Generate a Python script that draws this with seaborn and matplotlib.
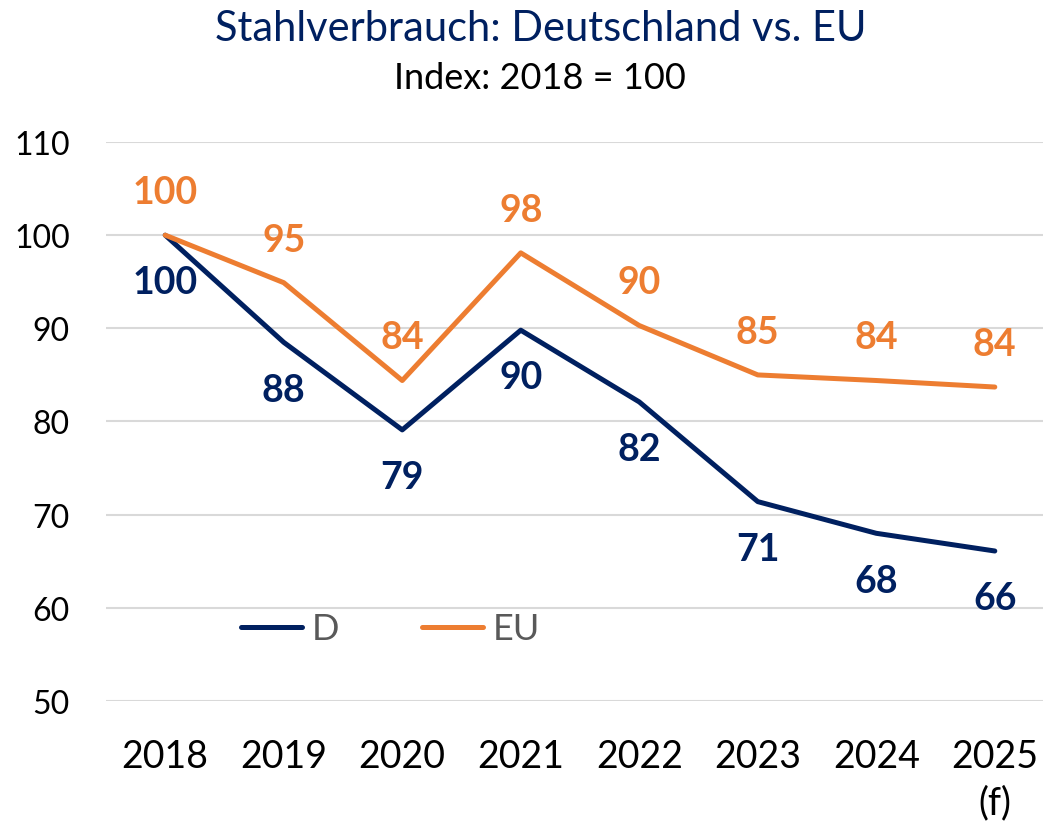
import pandas as pd
import matplotlib.pyplot as plt
import seaborn as sns

sns.set_theme(style="white")
plt.rcParams['font.family'] = ['Lato', 'DejaVu Sans']

years = ['2018', '2019', '2020', '2021', '2022', '2023', '2024', '2025\n(f)']
d_values = [100, 88.5, 79.1, 89.8, 82.1, 71.4, 68.0, 66.1]
eu_values = [100, 94.9, 84.4, 98.1, 90.3, 85.0, 84.4, 83.7]

navy = '#002060'
orange = '#ED7D31'

df = pd.DataFrame({
    'year': years * 2,
    'value': d_values + eu_values,
    'series': ['D'] * len(years) + ['EU'] * len(years),
})

fig = plt.figure(figsize=(10.43, 8.29), dpi=100)
ax = fig.add_axes([0.1016, 0.1532, 0.909, 0.6743])

sns.lineplot(data=df, x='year', y='value', hue='series', sort=False,
             palette={'D': navy, 'EU': orange}, linewidth=3.6, ax=ax)

# data labels: D below, EU above
for i, v in enumerate(d_values):
    ax.annotate(f'{v:.0f}', (i, v), xytext=(0, -34), textcoords='offset points',
                ha='center', va='center', fontsize=27, fontweight='bold', color=navy)
for i, v in enumerate(eu_values):
    ax.annotate(f'{v:.0f}', (i, v), xytext=(0, 31), textcoords='offset points',
                ha='center', va='center', fontsize=27, fontweight='bold', color=orange)

ax.set_xlim(-0.5, len(years) - 0.5)
ax.set_ylim(50, 110)
ax.set_yticks(range(50, 111, 10))
ax.yaxis.grid(True, color='#D9D9D9', linewidth=1.5)
ax.xaxis.grid(False)
for s in ax.spines.values():
    s.set_visible(False)
ax.tick_params(axis='y', labelsize=23, pad=26, length=0, labelcolor='black')
ax.tick_params(axis='x', labelsize=27, pad=27, length=0, labelcolor='black')
for t in ax.get_xticklabels():
    t.set_linespacing(1.35)
ax.set_xlabel('')
ax.set_ylabel('')

leg = ax.legend(loc='center', bbox_to_anchor=(0.3, 0.129), ncol=2, frameon=False,
                fontsize=26, handlelength=1.7, columnspacing=2.3, handletextpad=0.25)
for t in leg.get_texts():
    t.set_color('#595959')

fig.text(0.518, 0.965, 'Stahlverbrauch: Deutschland vs. EU', ha='center', va='center',
         fontsize=30, color=navy)
fig.text(0.518, 0.905, 'Index: 2018 = 100', ha='center', va='center',
         fontsize=26, color='black')

fig.savefig('out.png', dpi=100)
